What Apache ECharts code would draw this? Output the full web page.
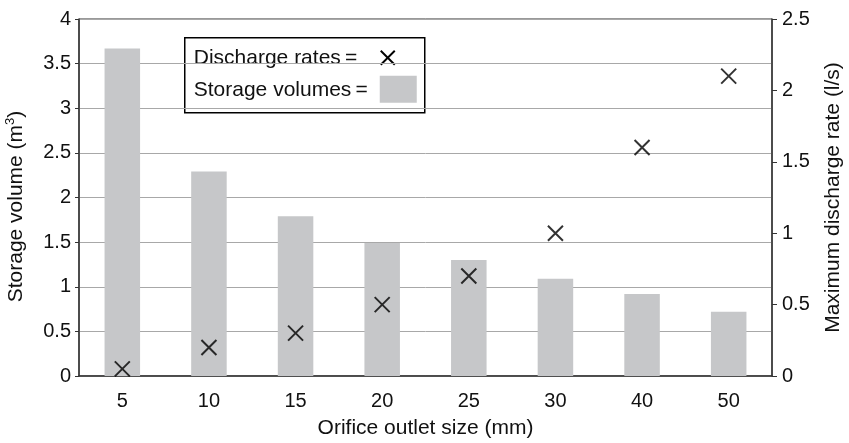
<!DOCTYPE html>
<html>
<head>
<meta charset="utf-8">
<script src="https://cdn.jsdelivr.net/npm/echarts@6/dist/echarts.min.js"></script>
<style>
  html, body { margin: 0; padding: 0; background: #fff; }
  #chart { width: 849px; height: 443px; }
</style>
</head>
<body>
<div id="chart"></div>
<script>
// Orifice outlet sizes (mm)
const orificeSizes = ['5', '10', '15', '20', '25', '30', '40', '50'];
// Storage volume required (m3)
const storageVolumes = [3.67, 2.29, 1.79, 1.49, 1.30, 1.09, 0.92, 0.72];
// Maximum discharge rate (l/s)
const dischargeRates = [0.05, 0.2, 0.3, 0.5, 0.7, 1.0, 1.6, 2.1];

const FONT = '"Liberation Sans", Arial, Helvetica, sans-serif';
const TXT = '#111';
const AXIS = '#333';
const TICK_FS = 20;
const NAME_FS = 21;

const chart = echarts.init(document.getElementById('chart'), null, { renderer: 'canvas' });

const crossPath = 'path://M0,0L10,10M10,0L0,10';

chart.setOption({
  animation: false,
  backgroundColor: '#fff',
  grid: {
    left: 79, right: 77, top: 19, bottom: 67,
    outerBoundsMode: 'none',
    containLabel: false,
    show: true, borderColor: AXIS, borderWidth: 1, backgroundColor: 'transparent'
  },
  xAxis: {
    type: 'category',
    data: orificeSizes,
    name: 'Orifice outlet size (mm)',
    nameLocation: 'middle',
    nameGap: 42,
    nameTextStyle: { fontFamily: FONT, fontSize: NAME_FS, color: TXT },
    axisLine: { lineStyle: { color: AXIS, width: 1.5 } },
    axisTick: { show: false },
    axisLabel: { fontFamily: FONT, fontSize: TICK_FS, color: TXT, margin: 15 }
  },
  yAxis: [
    {
      type: 'value',
      min: 0, max: 4, interval: 0.5,
      name: 'Storage volume (m{sup|3})',
      nameLocation: 'middle',
      nameRotate: 90,
      nameGap: 50,
      nameTextStyle: {
        fontFamily: FONT, fontSize: NAME_FS, color: TXT,
        padding: [0, 18, 0, 0],
        rich: { sup: { fontFamily: FONT, fontSize: 13, color: TXT, verticalAlign: 'top', padding: [0, 0, 12, 0] } }
      },
      axisLine: { show: true, lineStyle: { color: AXIS, width: 1.5 } },
      axisTick: { show: true, length: 4, lineStyle: { color: AXIS } },
      axisLabel: { fontFamily: FONT, fontSize: TICK_FS, color: TXT, margin: 8 },
      splitLine: { show: true, lineStyle: { color: '#a8a8a8', width: 1 } }
    },
    {
      type: 'value',
      min: 0, max: 2.5, interval: 0.5,
      position: 'right',
      name: 'Maximum discharge rate (l/s)',
      nameLocation: 'middle',
      nameRotate: 90,
      nameGap: 51,
      nameTextStyle: { fontFamily: FONT, fontSize: NAME_FS, color: TXT },
      axisLine: { show: true, lineStyle: { color: AXIS, width: 1.5 } },
      axisTick: { show: true, length: 5, lineStyle: { color: AXIS } },
      axisLabel: { fontFamily: FONT, fontSize: TICK_FS, color: TXT, margin: 10 },
      splitLine: { show: false }
    }
  ],
  series: [
    {
      name: 'Storage volumes',
      type: 'bar',
      yAxisIndex: 0,
      data: storageVolumes,
      barWidth: '41%',
      itemStyle: { color: '#c6c7c9' }
    },
    {
      name: 'Discharge rates',
      type: 'scatter',
      yAxisIndex: 1,
      data: dischargeRates,
      symbol: crossPath,
      symbolSize: 15,
      itemStyle: { color: 'none', borderColor: '#000', borderWidth: 2 },
      z: 5
    }
  ],
  graphic: [
    {
      type: 'group',
      left: 184, top: 37,
      children: [
        { type: 'rect', shape: { x: 0, y: 0, width: 240, height: 75 },
          style: { fill: '#fff', stroke: '#000', lineWidth: 1.5 } },
        { type: 'text', x: 9, y: 20,
          style: { text: 'Discharge rates\u2009=', font: NAME_FS + 'px ' + FONT, fill: TXT, textVerticalAlign: 'middle' } },
        { type: 'text', x: 9, y: 52,
          style: { text: 'Storage volumes\u2009=', font: NAME_FS + 'px ' + FONT, fill: TXT, textVerticalAlign: 'middle' } },
        { type: 'polyline', shape: { points: [[196, 13], [210, 27]] }, style: { stroke: '#000', lineWidth: 2 } },
        { type: 'polyline', shape: { points: [[210, 13], [196, 27]] }, style: { stroke: '#000', lineWidth: 2 } },
        { type: 'rect', shape: { x: 195, y: 38, width: 37, height: 27 }, style: { fill: '#c6c7c9' } }
      ]
    }
  ]
});
</script>
</body>
</html>
